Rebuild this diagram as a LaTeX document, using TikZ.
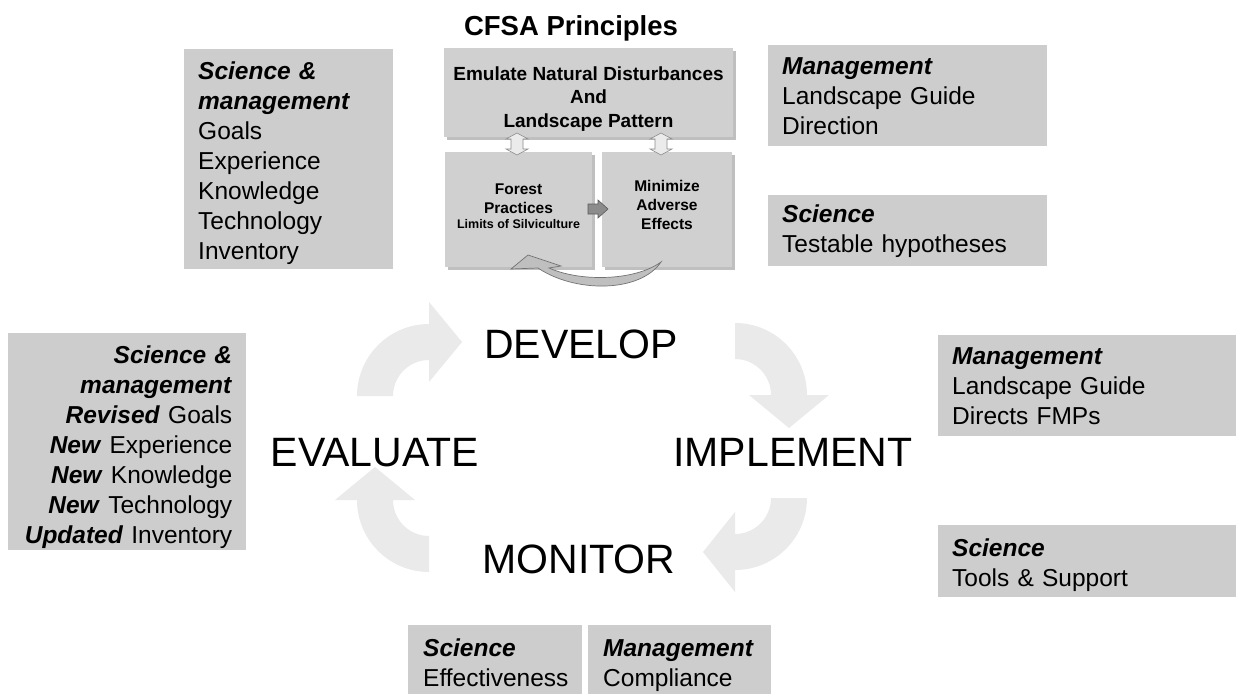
\documentclass[tikz,border=0pt]{standalone}
\usepackage{fontspec}
\setmainfont{Liberation Sans}
\usetikzlibrary{shadows}
\definecolor{boxgray}{RGB}{205,205,205}
\definecolor{cfsagray}{RGB}{208,208,208}
\definecolor{cyclegray}{RGB}{234,234,234}
\newcommand\hdtxt[1]{\textbf{\textit{#1}}}
\newcommand\topstrut[1]{\rule{0pt}{#1}}
\begin{document}
\begin{tikzpicture}[x=1pt,y=-1pt,
  infobox/.style={fill=boxgray, inner xsep=14pt, inner ysep=0pt, anchor=north west,
    font=\fontsize{24.5}{30}\selectfont},
  cfsabox/.style={fill=cfsagray, inner sep=0pt,
    drop shadow={shadow xshift=3pt, shadow yshift=-3pt, fill=black!50, opacity=0.5}},
  cfsatext/.style={align=center, inner sep=0pt, font=\bfseries\fontsize{15.5}{19}\selectfont},
  cycleword/.style={font=\fontsize{41}{48}\selectfont, anchor=base, inner sep=0pt},
  cyclearrow/.style={fill=cyclegray},
  hollowarrow/.style={fill=white!92!black, draw=black!45, line width=0.6pt},
  blockarrow/.style={fill=black!45, draw=black!65, line width=0.6pt},
  curvearrow/.style={fill=black!25, draw=black!55, line width=0.7pt}]
\useasboundingbox[fill=white] (0,0) rectangle (1236,693);

% cycle arrows
\fill[cyclearrow] (357,396) arc[start angle=180,end angle=270,radius=72] -- (429,302) -- (462,342) -- (429,382) -- (429,360) arc[start angle=270,end angle=180,radius=36] -- cycle;
\fill[cyclearrow] (735,323) arc[start angle=270,end angle=360,radius=72] -- (829,395) -- (789,428) -- (749,395) -- (771,395) arc[start angle=360,end angle=270,radius=36] -- cycle;
\fill[cyclearrow] (807,498) arc[start angle=0,end angle=90,radius=72] -- (735,592) -- (703,552) -- (735,512) -- (735,534) arc[start angle=90,end angle=0,radius=36] -- cycle;
\fill[cyclearrow] (429,572) arc[start angle=90,end angle=180,radius=72] -- (335,500) -- (375,467) -- (415,500) -- (393,500) arc[start angle=180,end angle=90,radius=36] -- cycle;

% cycle words
\node[cycleword] (develop) at (581,358) {DEVELOP};
\node[cycleword] (implement) at (793,466) {IMPLEMENT};
\node[cycleword] (monitor) at (579,573) {MONITOR};
\node[cycleword] (evaluate) at (375,466) {EVALUATE};

% title
\node[font=\bfseries\fontsize{27.5}{32}\selectfont, anchor=base, inner sep=0pt] (title) at (571,36) {CFSA Principles};

% CFSA boxes
\node[cfsabox, minimum width=289pt, minimum height=89pt] (emulate) at (588.5,92.5) {};
\node[cfsatext, font=\bfseries\fontsize{19}{23.5}\selectfont] (emulatetext) at (588.5,99) {Emulate Natural Disturbances\\And\\Landscape Pattern};
\node[cfsabox, minimum width=147pt, minimum height=115pt] (forest) at (518.5,209.5) {};
\node[cfsatext] (foresttext) at (518.5,206) {Forest\\Practices\\[-4pt]\fontsize{12.5}{16}\selectfont Limits of Silviculture};
\node[cfsabox, minimum width=130pt, minimum height=115pt] (minimize) at (667,209.5) {};
\node[cfsatext] (minimizetext) at (667,204.5) {Minimize\\Adverse\\Effects};

% hollow double arrows
\foreach \cx in {517,661}{
  \draw[hollowarrow] (\cx,133) -- (\cx+11,139) -- (\cx+6,139) -- (\cx+6,149) -- (\cx+11,149) -- (\cx,155) -- (\cx-11,149) -- (\cx-6,149) -- (\cx-6,139) -- (\cx-11,139) -- cycle;
}
% block arrow forest -> minimize
\draw[blockarrow] (588,204) -- (598,204) -- (598,200) -- (608,209) -- (598,218) -- (598,214) -- (588,214) -- cycle;
% curved arrow minimize -> forest
\draw[curvearrow] (661,262) .. controls (640,293) and (575,293) .. (538,268) -- (511,269) -- (528,255) -- (561,266) -- (549,268) .. controls (580,282) and (635,281) .. (661,262) -- cycle;

% info boxes
\node[infobox, align=left, text width=181pt, minimum height=220pt] (smgoals) at (184,49)
  {\topstrut{26pt}\hdtxt{Science \&}\\\hdtxt{management}\\Goals\\Experience\\Knowledge\\Technology\\Inventory};
\node[infobox, align=left, text width=251pt, minimum height=101pt] (mgmtdir) at (768,45)
  {\hdtxt{Management}\\Landscape Guide\\Direction};
\node[infobox, align=left, text width=251pt, minimum height=71pt] (scihyp) at (768,195)
  {\hdtxt{Science}\\Testable hypotheses};
\node[infobox, align=right, text width=210pt, minimum height=217pt] (smrevised) at (8,333)
  {\topstrut{28pt}\hdtxt{Science \&}\\\hdtxt{management}\\\hdtxt{Revised} Goals\\\hdtxt{New} Experience\\\hdtxt{New} Knowledge\\\hdtxt{New} Technology\\\hdtxt{Updated} Inventory};
\node[infobox, align=left, text width=270pt, minimum height=101pt] (mgmtfmp) at (938,335)
  {\hdtxt{Management}\\Landscape Guide\\Directs FMPs};
\node[infobox, align=left, text width=270pt, minimum height=72pt] (scitools) at (938,525)
  {\topstrut{25pt}\hdtxt{Science}\\Tools \& Support};
\node[infobox, align=left, text width=144pt, minimum height=75pt, inner xsep=15pt] (scieff) at (408,625)
  {\hdtxt{Science}\\Effectiveness};
\node[infobox, align=left, text width=153pt, minimum height=75pt, inner xsep=15pt] (mgmtcomp) at (588,625)
  {\topstrut{23pt}\hdtxt{Management}\\Compliance};
\end{tikzpicture}
\end{document}
